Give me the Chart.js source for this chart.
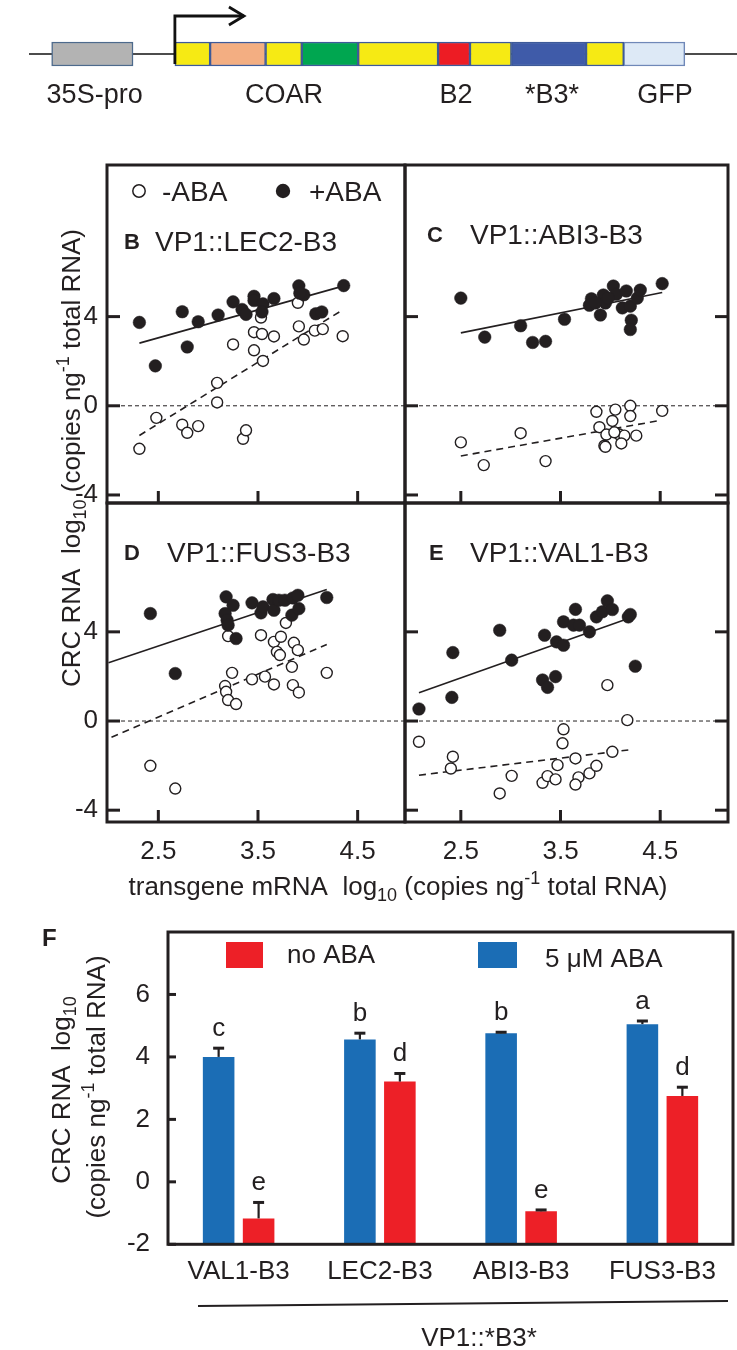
<!DOCTYPE html>
<html>
<head>
<meta charset="utf-8">
<script src="https://cdn.jsdelivr.net/npm/chart.js@4.4.1/dist/chart.umd.min.js"></script>
<style>
html,body{margin:0;padding:0;background:#fff;}
#fig{position:relative;width:737px;height:1350px;overflow:hidden;font-family:'Liberation Sans',Arial,Helvetica,sans-serif;color:#231f20;background:#fff;}
#fig canvas{position:absolute;left:0;top:0;}
.t{position:absolute;white-space:nowrap;font-size:26px;line-height:1;}
.t sub{font-size:18px;vertical-align:-6px;line-height:0;}
.t sup{font-size:18px;vertical-align:11px;line-height:0;}
</style>
</head>
<body>
<div id="fig">
  <canvas id="cMap" width="737" height="1350"></canvas>
  <canvas id="cB" width="737" height="1350"></canvas>
  <canvas id="cC" width="737" height="1350"></canvas>
  <canvas id="cD" width="737" height="1350"></canvas>
  <canvas id="cE" width="737" height="1350"></canvas>
  <canvas id="cF" width="737" height="1350"></canvas>
  <div class="t" style="left:71px;top:458px;transform:translate(-50%,-50%) rotate(-90deg);">CRC RNA&nbsp; log<sub>10</sub> (copies ng<sup>-1</sup> total RNA)</div>
  <div class="t" style="left:398px;top:886px;transform:translate(-50%,-50%);">transgene mRNA&nbsp; log<sub>10</sub> (copies ng<sup>-1</sup> total RNA)</div>
  <div class="t" style="left:61px;top:1090px;transform:translate(-50%,-50%) rotate(-90deg);">CRC RNA&nbsp; log<sub>10</sub></div>
  <div class="t" style="left:96px;top:1087px;transform:translate(-50%,-50%) rotate(-90deg);">(copies ng<sup>-1</sup> total RNA)</div>
</div>
<script>
// ---------------- DATA ----------------
// Construct map (positions in map units, 0-100 across the figure width)
const mapSegNames  = ['35S-pro box','N-term','COAR-1','linker-1','COAR-2','linker-2','B2','linker-3','*B3*','linker-4','GFP'];
const mapSegStart  = [7.01, 23.73, 28.51, 36.04, 40.95, 48.60, 59.44, 63.77, 69.39, 79.52, 84.63];
const mapSegEnd    = [18.05, 28.51, 36.04, 40.95, 48.60, 59.44, 63.77, 69.39, 79.52, 84.63, 92.92];
const mapLabels    = ['35S-pro','COAR','B2','*B3*','GFP'];
const mapLabelPos  = [12.84, 38.53, 61.87, 74.9, 90.23];
const mapBackbone  = [3.93, 100];
const mapPromoter  = [23.73, 33.1];

// Scatter panels: transgene mRNA (x) vs CRC RNA (y), log10
const scatterXTicks = [2.5, 3.5, 4.5];
const scatterYTicks = [-4, 0, 4];
const scatterSeries = ['-ABA', '+ABA'];

// B  VP1::LEC2-B3
const lec2PlusX  = [2.31,2.47,2.74,2.79,2.90,3.10,3.25,3.34,3.38,3.46,3.46,3.55,3.54,3.66,3.91,3.96,3.92,4.08,4.14,4.36];
const lec2PlusY  = [3.74,1.79,4.22,2.64,3.77,4.07,4.66,4.32,4.10,4.91,4.72,4.57,4.21,4.81,5.38,4.98,5.05,4.13,4.21,5.39];
const lec2MinusX = [2.31,2.48,2.74,2.79,2.90,3.09,3.09,3.25,3.35,3.38,3.46,3.46,3.54,3.53,3.55,3.66,3.90,3.91,3.96,4.07,4.15,4.35];
const lec2MinusY = [-1.93,-0.54,-0.85,-1.21,-0.91,1.03,0.15,2.75,-1.48,-1.10,3.30,2.49,3.22,3.96,2.01,3.11,4.62,3.56,2.97,3.37,3.44,3.12];
const lec2PlusFitX = [2.31, 4.37], lec2PlusFitY = [2.81, 5.39];
const lec2MinusFitX = [2.31, 4.32], lec2MinusFitY = [-1.33, 4.22];

// C  VP1::ABI3-B3
const abi3PlusX  = [2.50,2.74,3.10,3.22,3.35,3.54,3.81,3.79,3.90,3.93,3.95,4.03,4.06,4.12,4.16,4.20,4.27,4.30,4.21,4.20,4.52,3.85,3.98];
const abi3PlusY  = [4.83,3.08,3.59,2.84,2.89,3.88,4.80,4.51,4.07,4.97,4.61,5.37,5.00,4.39,5.15,4.47,4.83,5.19,3.84,3.42,5.48,4.61,4.83];
const abi3MinusX = [2.50,2.73,3.10,3.35,3.86,4.05,4.20,4.20,4.52,3.89,4.02,3.96,4.09,4.14,4.26,4.11,3.94,3.95,4.04];
const abi3MinusY = [-1.64,-2.66,-1.23,-2.48,-0.27,-0.17,0.00,-0.46,-0.23,-0.96,-0.68,-1.29,-1.29,-1.34,-1.34,-1.69,-1.79,-1.84,-1.19];
const abi3PlusFitX = [2.50, 4.52], abi3PlusFitY = [3.27, 5.08];
const abi3MinusFitX = [2.50, 4.51], abi3MinusFitY = [-2.25, -0.65];

// D  VP1::FUS3-B3
const fus3PlusX  = [2.42,2.67,3.18,3.25,3.17,3.19,3.28,3.44,3.53,3.55,3.65,3.66,3.71,3.77,3.85,3.90,3.84,3.91,4.19,3.20];
const fus3PlusY  = [4.82,2.13,5.57,5.19,4.82,4.52,3.70,5.30,4.85,5.12,5.45,4.97,5.42,5.42,5.52,5.64,4.75,5.04,5.54,4.30];
const fus3MinusX = [2.42,2.67,3.20,3.53,3.66,3.73,3.69,3.72,3.86,3.90,3.84,3.78,3.24,3.44,3.57,3.66,3.17,3.18,3.20,3.28,3.85,3.91,4.19];
const fus3MinusY = [-2.01,-3.03,3.81,3.85,3.55,3.78,3.10,2.96,3.51,3.18,2.43,4.40,2.16,1.87,1.99,1.64,1.57,1.31,0.94,0.76,1.61,1.28,2.16];
const fus3PlusFitX = [2.00, 4.19], fus3PlusFitY = [2.61, 5.90];
const fus3MinusFitX = [2.03, 4.19], fus3MinusFitY = [-0.73, 3.43];

// E  VP1::VAL1-B3
const val1PlusX  = [2.08,2.41,2.42,2.89,3.01,3.32,3.37,3.45,3.34,3.46,3.53,3.53,3.63,3.69,3.65,3.79,3.86,3.92,3.97,4.02,4.18,4.20,4.25];
const val1PlusY  = [0.54,1.06,3.07,4.07,2.73,1.84,1.51,1.99,3.85,3.55,3.40,4.45,4.30,4.30,5.01,4.00,4.67,4.90,5.39,5.00,4.67,4.78,2.46];
const val1MinusX = [2.08,2.42,2.40,2.89,3.01,3.32,3.37,3.45,3.47,3.52,3.53,3.65,3.68,3.65,3.79,3.86,3.97,4.02,4.17];
const val1MinusY = [-0.93,-1.60,-2.13,-3.25,-2.46,-2.77,-2.47,-2.62,-1.98,-1.00,-0.37,-1.68,-2.53,-2.85,-2.35,-2.01,1.61,-1.38,0.04];
const val1PlusFitX = [2.08, 4.18], val1PlusFitY = [1.27, 4.60];
const val1MinusFitX = [2.08, 4.18], val1MinusFitY = [-2.43, -1.30];

// F  bar chart
const barCategories = ['VAL1-B3','LEC2-B3','ABI3-B3','FUS3-B3'];
const barSeriesNames = ['5 \u03bcM ABA', 'no ABA'];
const abaMean   = [4.00, 4.56, 4.76, 5.05];
const abaSE     = [0.28, 0.20, 0.03, 0.10];
const noAbaMean = [-1.17, 3.21, -0.94, 2.75];
const noAbaSE   = [0.51, 0.26, 0.04, 0.28];
const abaLetters   = ['c','b','b','a'];
const noAbaLetters = ['e','d','e','d'];
const barYTicks = [-2, 0, 2, 4, 6];
const barGroupTitle = 'VP1::*B3*';

// ---------------- STYLE / SETUP ----------------
const ink = '#231f20';
const FONT = "'Liberation Sans', Arial, Helvetica, sans-serif";
const W = 737, H = 1350;
Chart.defaults.font.family = FONT;
Chart.defaults.color = ink;
Chart.defaults.animation = false;
Chart.defaults.responsive = false;
Chart.defaults.maintainAspectRatio = false;
Chart.defaults.devicePixelRatio = 1;
Chart.defaults.events = [];
Chart.defaults.plugins.legend.display = false;
Chart.defaults.plugins.tooltip.enabled = false;

function pts(xs, ys) { return xs.map((x, i) => ({x: x, y: ys[i]})); }
function seg(ctx, x1, y1, x2, y2) { ctx.beginPath(); ctx.moveTo(x1, y1); ctx.lineTo(x2, y2); ctx.stroke(); }

// ---------------- CONSTRUCT MAP ----------------
const mapColors = ['#b3b3b3','#f6ea14','#f3ae82','#f6ea14','#00a650','#f6ea14','#ed1c24','#f6ea14','#3f5ba9','#f6ea14','#dde9f6'];
const mapBorders = ['#4d6a8c','#3d5a99','#3d5a99','#3d5a99','#3d5a99','#3d5a99','#3d5a99','#3d5a99','#3d5a99','#3d5a99','#6f88b8'];
const mapDecor = {
  id: 'mapDecor',
  beforeDatasetsDraw(chart) {
    const {ctx, scales: {x, y}} = chart;
    const yc = y.getPixelForValue(0);
    ctx.save();
    ctx.strokeStyle = '#111'; ctx.lineWidth = 1.6;
    seg(ctx, x.getPixelForValue(mapBackbone[0]), yc, x.getPixelForValue(mapBackbone[1]), yc);
    ctx.restore();
  },
  afterDatasetsDraw(chart) {
    const {ctx, scales: {x, y}} = chart;
    const yc = y.getPixelForValue(0);
    const x0 = x.getPixelForValue(mapPromoter[0]), x1 = x.getPixelForValue(mapPromoter[1]);
    ctx.save();
    ctx.strokeStyle = '#111'; ctx.lineWidth = 2.8; ctx.lineJoin = 'miter'; ctx.lineCap = 'butt';
    ctx.beginPath(); ctx.moveTo(x0, yc + 10); ctx.lineTo(x0, 16); ctx.lineTo(x1, 16); ctx.stroke();
    ctx.beginPath(); ctx.moveTo(x1 - 15, 7); ctx.lineTo(x1, 16); ctx.lineTo(x1 - 15, 25); ctx.stroke();
    ctx.fillStyle = ink; ctx.font = '27px ' + FONT; ctx.textAlign = 'center'; ctx.textBaseline = 'alphabetic';
    mapLabels.forEach((t, i) => ctx.fillText(t, x.getPixelForValue(mapLabelPos[i]), 103));
    ctx.restore();
  }
};
new Chart(document.getElementById('cMap'), {
  type: 'bar',
  data: {
    labels: ['construct'],
    datasets: mapSegNames.map((n, i) => ({
      label: n, data: [[mapSegStart[i], mapSegEnd[i]]],
      backgroundColor: mapColors[i], borderColor: mapBorders[i], borderWidth: 1.5,
      borderSkipped: false, grouped: false, barThickness: 24
    }))
  },
  options: {
    indexAxis: 'y',
    layout: {padding: {left: 0, right: 0, top: 0, bottom: H - 108}},
    scales: {
      x: {type: 'linear', min: 0, max: 100, display: false},
      y: {display: false}
    }
  },
  plugins: [mapDecor]
});

// ---------------- SCATTER PANELS ----------------
const panelFrame = {
  id: 'panelFrame',
  beforeDatasetsDraw(chart) {
    const {ctx, chartArea: a, scales: {y}} = chart;
    const y0 = y.getPixelForValue(0);
    ctx.save();
    ctx.strokeStyle = ink; ctx.lineWidth = 1; ctx.setLineDash([4, 3]);
    seg(ctx, a.left, y0, a.right, y0);
    ctx.restore();
  },
  afterDraw(chart, args, o) {
    const {ctx, chartArea: a, scales: {x, y}} = chart;
    ctx.save();
    ctx.strokeStyle = ink; ctx.lineWidth = 3;
    ctx.strokeRect(a.left, a.top, a.right - a.left, a.bottom - a.top);
    scatterYTicks.forEach(v => {
      const py = y.getPixelForValue(v);
      if (o.leftTicks) seg(ctx, a.left, py, a.left + 13, py);
      if (o.rightTicks) seg(ctx, a.right - 13, py, a.right, py);
    });
    scatterXTicks.forEach(v => {
      const px = x.getPixelForValue(v);
      seg(ctx, px, a.bottom, px, a.bottom - 12);
    });
    // panel letter and title
    ctx.fillStyle = ink; ctx.textBaseline = 'alphabetic'; ctx.textAlign = 'left';
    ctx.font = 'bold 22px ' + FONT;
    ctx.fillText(o.letter, o.letterX, o.titleY + 8);
    ctx.font = '28px ' + FONT;
    ctx.fillText(o.title, o.titleX, o.titleY + 10);
    if (o.legend) {
      const open = chart.data.datasets[1], filled = chart.data.datasets[0];
      ctx.beginPath(); ctx.arc(139, 191, 6.2, 0, Math.PI * 2);
      ctx.fillStyle = '#fff'; ctx.fill(); ctx.lineWidth = 1.5; ctx.strokeStyle = ink; ctx.stroke();
      ctx.beginPath(); ctx.arc(283, 191, 7.2, 0, Math.PI * 2); ctx.fillStyle = ink; ctx.fill();
      ctx.font = '28px ' + FONT;
      ctx.fillText(open.label, 162, 201);
      ctx.fillText(filled.label, 309, 201);
    }
    ctx.restore();
  }
};

function makeScatter(id, d, L) {
  return new Chart(document.getElementById(id), {
    type: 'scatter',
    data: {datasets: [
      {label: scatterSeries[1], data: pts(d.plusX, d.plusY), order: 1, pointRadius: 6.3,
       pointBackgroundColor: ink, pointBorderColor: ink, pointBorderWidth: 0.5},
      {label: scatterSeries[0], data: pts(d.minusX, d.minusY), order: 2, pointRadius: 5.5,
       pointBackgroundColor: '#fff', pointBorderColor: ink, pointBorderWidth: 1.4},
      {type: 'line', label: '+ABA fit', data: pts(d.plusFitX, d.plusFitY), order: 3,
       borderColor: ink, borderWidth: 1.6, pointRadius: 0, fill: false},
      {type: 'line', label: '-ABA fit', data: pts(d.minusFitX, d.minusFitY), order: 4,
       borderColor: ink, borderWidth: 1.6, borderDash: [7, 5], pointRadius: 0, fill: false}
    ]},
    options: {
      layout: {padding: {left: L.showY ? 0 : L.l, right: W - L.r, top: L.t, bottom: L.showX ? 0 : H - L.b}},
      scales: {
        x: {type: 'linear', min: L.x[0], max: L.x[1], display: L.showX,
            grid: {display: false, drawTicks: false}, border: {display: false},
            afterBuildTicks: s => { s.ticks = scatterXTicks.map(v => ({value: v})); },
            afterFit: s => { if (L.showX) s.height = H - L.b; },
            ticks: {autoSkip: false, maxRotation: 0, padding: 14, font: {size: 26}, color: ink,
                    callback: v => Number(v).toFixed(1)}},
        y: {type: 'linear', min: L.y[0], max: L.y[1], display: L.showY,
            grid: {display: false, drawTicks: false}, border: {display: false},
            afterBuildTicks: s => { s.ticks = scatterYTicks.map(v => ({value: v})); },
            afterFit: s => { if (L.showY) s.width = L.l; },
            ticks: {padding: 9, font: {size: 26}, color: ink, callback: v => String(v)}}
      },
      plugins: {panelFrame: L.frame}
    },
    plugins: [panelFrame]
  });
}

const topY = [-4.36, 10.80], botY = [-4.53, 9.78];
const leftX = [1.985, 4.975], rightX = [1.94, 5.18];

makeScatter('cB',
  {plusX: lec2PlusX, plusY: lec2PlusY, minusX: lec2MinusX, minusY: lec2MinusY,
   plusFitX: lec2PlusFitX, plusFitY: lec2PlusFitY, minusFitX: lec2MinusFitX, minusFitY: lec2MinusFitY},
  {l: 107, r: 405, t: 165, b: 503, x: leftX, y: topY, showX: false, showY: true,
   frame: {leftTicks: true, rightTicks: false, letter: 'B', letterX: 124, title: 'VP1::LEC2-B3', titleX: 155, titleY: 241, legend: true}});
makeScatter('cC',
  {plusX: abi3PlusX, plusY: abi3PlusY, minusX: abi3MinusX, minusY: abi3MinusY,
   plusFitX: abi3PlusFitX, plusFitY: abi3PlusFitY, minusFitX: abi3MinusFitX, minusFitY: abi3MinusFitY},
  {l: 405, r: 728, t: 165, b: 503, x: rightX, y: topY, showX: false, showY: false,
   frame: {leftTicks: true, rightTicks: true, letter: 'C', letterX: 427, title: 'VP1::ABI3-B3', titleX: 470, titleY: 234}});
makeScatter('cD',
  {plusX: fus3PlusX, plusY: fus3PlusY, minusX: fus3MinusX, minusY: fus3MinusY,
   plusFitX: fus3PlusFitX, plusFitY: fus3PlusFitY, minusFitX: fus3MinusFitX, minusFitY: fus3MinusFitY},
  {l: 107, r: 405, t: 503, b: 822, x: leftX, y: botY, showX: true, showY: true,
   frame: {leftTicks: true, rightTicks: false, letter: 'D', letterX: 124, title: 'VP1::FUS3-B3', titleX: 167, titleY: 552}});
makeScatter('cE',
  {plusX: val1PlusX, plusY: val1PlusY, minusX: val1MinusX, minusY: val1MinusY,
   plusFitX: val1PlusFitX, plusFitY: val1PlusFitY, minusFitX: val1MinusFitX, minusFitY: val1MinusFitY},
  {l: 405, r: 728, t: 503, b: 822, x: rightX, y: botY, showX: true, showY: false,
   frame: {leftTicks: true, rightTicks: true, letter: 'E', letterX: 429, title: 'VP1::VAL1-B3', titleX: 470, titleY: 552}});

// ---------------- BAR CHART F ----------------
const barErr = [abaSE, noAbaSE];
const barLetters = [abaLetters, noAbaLetters];
const barDecor = {
  id: 'barDecor',
  afterDatasetsDraw(chart) {
    const {ctx, scales: {y}} = chart;
    ctx.save();
    ctx.strokeStyle = ink; ctx.fillStyle = ink;
    ctx.font = '26px ' + FONT; ctx.textAlign = 'center'; ctx.textBaseline = 'alphabetic';
    chart.data.datasets.forEach((ds, di) => {
      chart.getDatasetMeta(di).data.forEach((bar, i) => {
        const v = ds.data[i], e = barErr[di][i];
        const yb = y.getPixelForValue(v), yt = y.getPixelForValue(v + e);
        ctx.lineWidth = 2.2; seg(ctx, bar.x, yb, bar.x, yt);
        ctx.lineWidth = 3; seg(ctx, bar.x - 5.5, yt, bar.x + 5.5, yt);
        ctx.fillText(barLetters[di][i], bar.x, yt - 12);
      });
    });
    ctx.restore();
  },
  afterDraw(chart) {
    const {ctx, chartArea: a, scales: {y}} = chart;
    ctx.save();
    ctx.strokeStyle = ink; ctx.lineWidth = 3;
    ctx.strokeRect(a.left, a.top, a.right - a.left, a.bottom - a.top);
    barYTicks.forEach(v => { const py = y.getPixelForValue(v); seg(ctx, a.left, py, a.left + 8, py); });
    // legend (no ABA first)
    const items = [{di: 1, box: [226, 942, 37, 26], tx: 287, ty: 963}, {di: 0, box: [478, 942, 39, 26], tx: 545, ty: 967}];
    ctx.font = '26px ' + FONT; ctx.textAlign = 'left'; ctx.textBaseline = 'alphabetic';
    items.forEach(it => {
      const ds = chart.data.datasets[it.di];
      ctx.fillStyle = ds.backgroundColor; ctx.fillRect(...it.box);
      ctx.fillStyle = ink; ctx.fillText(ds.label, it.tx, it.ty);
    });
    // panel letter
    ctx.font = 'bold 24px ' + FONT; ctx.fillText('F', 42, 946);
    // group bracket line and title
    ctx.lineWidth = 2; seg(ctx, 198, 1306, 728, 1301);
    ctx.font = '26px ' + FONT; ctx.textAlign = 'center';
    ctx.fillText(barGroupTitle, 479, 1346);
    ctx.restore();
  }
};
new Chart(document.getElementById('cF'), {
  type: 'bar',
  data: {
    labels: barCategories,
    datasets: [
      {label: barSeriesNames[0], data: abaMean, backgroundColor: '#1b6db5', base: -2,
       categoryPercentage: 0.566, barPercentage: 0.79},
      {label: barSeriesNames[1], data: noAbaMean, backgroundColor: '#ed2027', base: -2,
       categoryPercentage: 0.566, barPercentage: 0.79}
    ]
  },
  options: {
    layout: {padding: {left: 0, right: 4, top: 932, bottom: 0}},
    scales: {
      x: {grid: {display: false, drawTicks: false}, border: {display: false},
          afterFit: s => { s.height = H - 1244.3; },
          ticks: {padding: 12, font: {size: 26}, color: ink, maxRotation: 0, autoSkip: false}},
      y: {min: -2, max: 8, grid: {display: false, drawTicks: false}, border: {display: false},
          afterBuildTicks: s => { s.ticks = barYTicks.map(v => ({value: v})); },
          afterFit: s => { s.width = 168; },
          ticks: {padding: 18, font: {size: 26}, color: ink, callback: v => String(v)}}
    }
  },
  plugins: [barDecor]
});
</script>
</body>
</html>
